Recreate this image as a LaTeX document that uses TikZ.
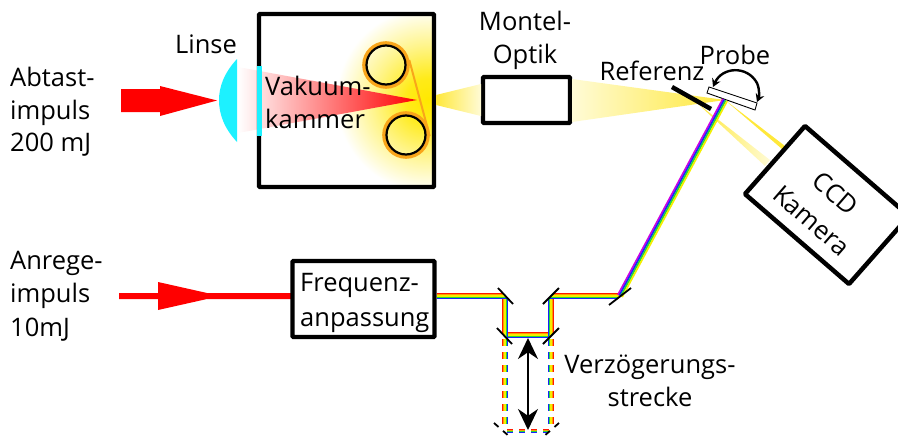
\documentclass[tikz,border=0pt]{standalone}
\usepackage{xcolor}
\usepackage{fontspec}
\setmainfont{Open Sans}
\usetikzlibrary{arrows.meta,positioning,calc}
\pgfdeclareradialshading{glow}{\pgfpoint{0bp}{0bp}}{rgb(0bp)=(1,0.91,0); rgb(6bp)=(1,0.92,0.1); rgb(15bp)=(1,0.96,0.55); rgb(25bp)=(1,1,1); rgb(50bp)=(1,1,1)}

\begin{document}
\begin{tikzpicture}[
    x=1pt, y=-1pt,
    font=\fontsize{25.5}{32.5}\selectfont,
    blackBox/.style={rectangle, draw=black, line width=4.4pt, rounded corners=1pt, align=center, inner sep=0pt},
    textLabel/.style={align=center, inner sep=0pt},
    leftLabel/.style={align=left, inner sep=0pt, anchor=north west},
    mirror/.style={draw=black, line width=1.8pt},
    roller/.style={circle, draw=black, line width=2.2pt, minimum size=39pt, inner sep=0pt},
    rollerRing/.style={circle, draw=ringOrange, line width=3.6pt, minimum size=44pt, inner sep=0pt},
    bigArrow/.style={-{Stealth[length=21pt, width=20pt]}, draw=black, line width=2.4pt},
    swingArrow/.style={{Stealth[length=8pt, width=9pt]}-{Stealth[length=8pt, width=9pt]}, draw=black, line width=2.4pt}
]

    \definecolor{lensCyan}{HTML}{1DF1FF}
    \definecolor{ringOrange}{HTML}{F9A51A}
    \definecolor{beamYellow}{HTML}{FFE83A}
    \definecolor{paleYellow}{HTML}{FFFBD6}
    \definecolor{stripeRed}{HTML}{FF1A00}
    \definecolor{stripeOrange}{HTML}{FF9900}
    \definecolor{stripeYellow}{HTML}{F4EE00}
    \definecolor{stripeGreen}{HTML}{22DD33}
    \definecolor{stripeBlue}{HTML}{1A22FF}
    \definecolor{stripeViolet}{HTML}{D000E0}

    \useasboundingbox (0,0) rectangle (898,437);

    % vacuum chamber
    \begin{scope}
        \clip (259,14) rectangle (434,187);
        \shade[shading=glow] (428,100) circle (92);
    \end{scope}
    \shade[left color=white, right color=red] (238,67) -- (417,100) -- (238,133) -- cycle;
    \node[blackBox, minimum width=175pt, minimum height=173pt] (chamber) at (346.5,100.5) {};
    \fill[lensCyan] (257,66) rectangle (262,136);
    \fill[lensCyan] (237,59) .. controls (224,73) and (219,87) .. (219,100) .. controls (219,114) and (224,128) .. (237,142) -- cycle;

    \node[rollerRing] (ringTop) at (386,65) {};
    \node[rollerRing] (ringBottom) at (406,135) {};
    \node[roller] (rollerTop) at (386,65) {};
    \node[roller] (rollerBottom) at (406,135) {};
    \draw[ringOrange, line width=2pt] (ringTop.12) -- (ringBottom.-3);

    % probe pulse
    \fill[red] (121,89) -- (160,89) -- (160,86) -- (217,100.5) -- (160,116) -- (160,112) -- (121,112) -- cycle;

    % pump pulse
    \fill[red] (119,293) -- (158,293) -- (158,282) -- (207,293) -- (293,293) -- (293,299) -- (207,299) -- (158,310) -- (158,299) -- (119,299) -- cycle;

    % xuv beam
    \node[blackBox, minimum width=87pt, minimum height=46pt] (montel) at (526.5,100) {};
    \shade[left color=beamYellow, right color=paleYellow] (436,95) -- (481,84) -- (481,116) -- (436,105) -- cycle;
    \shade[left color=paleYellow, right color=beamYellow] (572,79) -- (725,100) -- (572,122) -- cycle;

    \coordinate (sampleHit) at (725,100);
    \fill[beamYellow] (sampleHit) -- (785,146) -- (782,149) -- cycle;
    \shade[left color=beamYellow, right color=paleYellow] (697,103) -- (770,160) -- (765,166) -- cycle;

    \draw[line width=4.5pt] (672,87) -- (711,109);
    \draw[line width=0.9pt, fill=white] (709,87) -- (707,93) -- (755,110) -- (757,103) -- cycle;
    \draw[swingArrow] (713,87) .. controls (722,67) and (747,65) .. (757,83) .. controls (760,90) and (759,97) .. (757,102);

    % ccd
    \draw[line width=4.5pt, rounded corners=1pt] (805,126) -- (909,216) -- (849,284) -- (745,194) -- cycle;
    \node[textLabel, rotate=-41, font=\fontsize{25.5}{36}\selectfont] (ccdLabel) at (823.5,207) {CCD\\Kamera};

    % visible beam
    \node[blackBox, minimum width=142pt, minimum height=76pt] (freqBox) at (363.5,299) {};
    \node[leftLabel, font=\fontsize{25.5}{35}\selectfont] (freqLabel) at (300,273) {Frequenz-\\anpassung};
    \coordinate (cornerA) at (505,296);
    \coordinate (cornerB) at (505,335);
    \coordinate (cornerC) at (551,335);
    \coordinate (cornerD) at (551,296);
    \coordinate (cornerE) at (620,296);
    \foreach \c/\d in {stripeRed/-2.6, stripeOrange/-1.3, stripeYellow/0, stripeGreen/1.3, stripeBlue/2.6} {
        \draw[\c, line width=1.4pt] (freqBox.east |- 0,{296+\d}) -- ($(cornerA)+(\d,\d)$) -- ($(cornerB)+(\d,\d)$) -- ($(cornerC)+(-\d,\d)$) -- ($(cornerD)+(-\d,\d)$) -- ($(cornerE)+({-\d},\d)$);
        \draw[\c, line width=1.4pt, dash pattern=on 7pt off 6pt] ($(cornerB)+(\d,4)$) -- ++(0,90);
        \draw[\c, line width=1.4pt, dash pattern=on 7pt off 6pt] ($(cornerC)+(-\d,4)$) -- ++(0,90);
        \draw[\c, line width=0.8pt, dash pattern=on 6pt off 6pt] (507,{431+\d/2}) -- (550,{431+\d/2});
    }
    \foreach \c/\d in {stripeViolet/-2.4, stripeBlue/-0.8, stripeGreen/0.8, stripeYellow/2.4} {
        \draw[\c, line width=1.7pt] ($(cornerE)+({0.88*\d},{0.47*\d})$) -- ($(sampleHit)+({0.88*\d},{0.47*\d})$);
    }

    \draw[mirror] (498,288) -- (513,304);
    \draw[mirror] (543,304) -- (559,288);
    \draw[mirror] (497,328) -- (512,344);
    \draw[mirror] (543,344) -- (559,328);
    \draw[mirror] (609,305) -- (631,288);
    \draw[mirror, dash pattern=on 6pt off 6pt] (494,423) -- (510,437);
    \draw[mirror, dash pattern=on 6pt off 6pt] (559,423) -- (543,437);

    \coordinate (delayTop) at (528,338);
    \coordinate (delayBottom) at (528,430);
    \draw[bigArrow] (528,360) -- (delayTop);
    \draw[bigArrow] (528,358) -- (delayBottom);

    % labels
    \node[leftLabel] (probeLabel) at (10,67) {Abtast-\\impuls\\200 mJ};
    \node[leftLabel, font=\fontsize{25.5}{33.5}\selectfont] (pumpLabel) at (10,251) {Anrege-\\impuls\\10mJ};
    \node[textLabel] (lensLabel) at (206,44) {Linse};
    \node[leftLabel] (chamberLabel) at (265,76) {Vakuum-\\kammer};
    \node[textLabel] (montelLabel) at (525,40.5) {Montel-\\Optik};
    \node[textLabel] (refLabel) at (652,71) {Referenz};
    \node[textLabel] (sampleLabel) at (735,55) {Probe};
    \node[textLabel] (delayLabel) at (650,381) {Verzögerungs-\\strecke};

\end{tikzpicture}
\end{document}
